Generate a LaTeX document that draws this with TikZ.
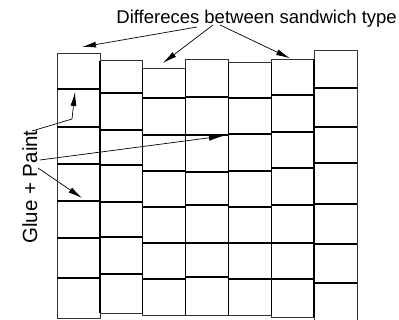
\documentclass[tikz,border=0pt]{standalone}
\usepackage{fontspec}
\setmainfont{Liberation Sans}
\usetikzlibrary{arrows.meta}
\tikzset{
  blk/.style={draw=black!80, line width=0.8pt},
  side/.style={draw=black, line width=1.4pt},
  iface/.style={draw=black, line width=2pt},
  ttl/.style={inner sep=0pt, font=\fontsize{18.5}{22}\selectfont},
  gl/.style={inner sep=0pt, font=\fontsize{20.5}{24}\selectfont},
  ptr/.style={draw=black, line width=0.7pt, -{Latex[length=14pt,width=6pt]}},
}
\begin{document}
\begin{tikzpicture}[x=1pt,y=-1pt]
\useasboundingbox (0,0) rectangle (399,320);
\fill[white] (0,0) rectangle (399,320);
% columns: xl, xr, top, bottom, interfaces
\foreach \xl/\xr/\tp/\bt/\ls in {
  57.3/100/53.3/318.5/{89.3,127.5,164.5,201.5,238,278.3},
  100/142.7/60.7/313.3/{93.3,129.7,165,202,237,274},
  142.7/185.7/68.3/315/{98.3,135,171,206.7,242.7,279},
  185.7/228.7/59.3/315/{97.3,135,171.7,205,242.7,277.3},
  228.7/271.7/62.7/315/{98.3,134.3,171,207.3,243.3,279.3},
  271.7/314/59.3/317.3/{95,131.7,167.7,205,243.3,279},
  314/357/50.3/322/{88.3,126.7,163.3,204.3,244.3,283.3}}{
  \draw[blk] (\xl,\tp) rectangle (\xr,\bt);
  \foreach \yy in \ls { \draw[iface] (\xl,\yy) -- (\xr,\yy); }
}
\draw[side] (100,60.7) -- (100,313.3);
\draw[side] (142.7,68.3) -- (142.7,313.3);
\draw[side] (185.7,68.3) -- (185.7,315);
\draw[side] (228.7,62.7) -- (228.7,315);
\draw[side] (271.7,62.7) -- (271.7,315);
\draw[side] (314,59.3) -- (314,317.3);

\node[ttl, anchor=base east] (title) at (397,24) {Differeces between sandwich type};
\node[gl, rotate=90, anchor=base] (glue) at (37,187) {Glue + Paint};

\coordinate (t1) at (197,27);
\coordinate (t2) at (213,25);
\coordinate (t3) at (220,25);
\coordinate (h1) at (82,47);
\coordinate (h2) at (163,63);
\coordinate (h3) at (290,58.3);
\draw[ptr] (t1) -- (h1);
\draw[ptr] (t2) -- (h2);
\draw[ptr] (t3) -- (h3);

\coordinate (g1) at (32,131);
\coordinate (g1b) at (72,119);
\coordinate (gh1) at (75,92);
\coordinate (g2) at (40,160);
\coordinate (gh2) at (223,136);
\coordinate (g3) at (38,168);
\coordinate (gh3) at (82,198);
\draw[ptr] (g1) -- (g1b) -- (gh1);
\draw[ptr] (g2) -- (gh2);
\draw[ptr] (g3) -- (gh3);
\end{tikzpicture}
\end{document}
